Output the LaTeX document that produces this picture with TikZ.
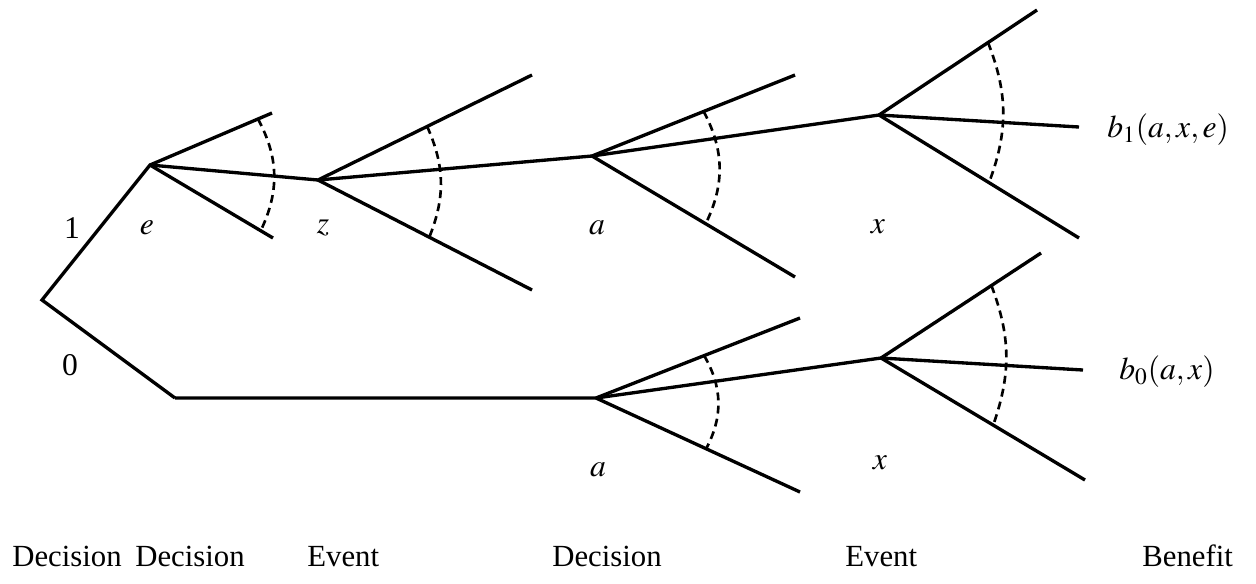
\documentclass[tikz,border=0pt]{standalone}
\usepackage{mathptmx}
\usepackage{fontspec}
\setmainfont{Liberation Serif}
\usetikzlibrary{positioning}
\tikzset{
  branch/.style={line width=1.9pt},
  cut/.style={line width=1.5pt, dash pattern=on 4.5pt off 3pt},
  lbl/.style={font=\fontsize{18}{21}\selectfont, inner sep=0pt},
  stage/.style={font=\fontsize{17.5}{21}\selectfont, inner sep=0pt, anchor=base west},
}

\begin{document}
\begin{tikzpicture}[x=0.02cm, y=-0.02cm]
\useasboundingbox (0,0) rectangle (1256,583);

% decision and event points
\coordinate (root) at (42,300);
\coordinate (e) at (150,165);
\coordinate (z) at (318,180);
\coordinate (a1) at (592,156);
\coordinate (x1) at (879,115);
\coordinate (kink) at (175,398);
\coordinate (a0) at (596,398);
\coordinate (x0) at (881,358);

% free ends of the fans
\coordinate (eTop) at (272,113);
\coordinate (eBot) at (273,238);
\coordinate (zTop) at (532,75);
\coordinate (zBot) at (532,290);
\coordinate (a1Top) at (795,75);
\coordinate (a1Bot) at (795,277);
\coordinate (x1Top) at (1037,10);
\coordinate (x1Mid) at (1079,127);
\coordinate (x1Bot) at (1079,238);
\coordinate (a0Top) at (800,318);
\coordinate (a0Bot) at (800,492);
\coordinate (x0Top) at (1041,253);
\coordinate (x0Mid) at (1083,370);
\coordinate (x0Bot) at (1085,480);

% main paths
\draw[branch] (kink) -- (root) -- (e) -- (z) -- (a1) -- (x1) -- (x1Mid);
\draw[branch] (kink) -- (a0) -- (x0) -- (x0Mid);

% fans
\draw[branch] (e) -- coordinate[pos=.885] (eU) (eTop);
\draw[branch] (e) -- coordinate[pos=.90] (eL) (eBot);
\draw[branch] (z) -- coordinate[pos=.51] (zU) (zTop);
\draw[branch] (z) -- coordinate[pos=.52] (zL) (zBot);
\draw[branch] (a1) -- coordinate[pos=.55] (a1U) (a1Top);
\draw[branch] (a1) -- coordinate[pos=.56] (a1L) (a1Bot);
\draw[branch] (x1) -- coordinate[pos=.69] (x1U) (x1Top);
\draw[branch] (x1) -- coordinate[pos=.55] (x1L) (x1Bot);
\draw[branch] (a0) -- coordinate[pos=.53] (a0U) (a0Top);
\draw[branch] (a0) -- coordinate[pos=.54] (a0L) (a0Bot);
\draw[branch] (x0) -- coordinate[pos=.69] (x0U) (x0Top);
\draw[branch] (x0) -- coordinate[pos=.55] (x0L) (x0Bot);

% dashed arcs
\draw[cut] (eU) to[bend left=27] (eL);
\draw[cut] (zU) to[bend left=23] (zL);
\draw[cut] (a1U) to[bend left=27] (a1L);
\draw[cut] (x1U) to[bend left=21] (x1L);
\draw[cut] (a0U) to[bend left=29] (a0L);
\draw[cut] (x0U) to[bend left=20] (x0L);

% labels
\node[lbl] (one) at (72,228) {1};
\node[lbl] (zero) at (70,365) {0};
\node[lbl] (eLab) at (147,228) {$e$};
\node[lbl] (zLab) at (323,228) {$z$};
\node[lbl] (a1Lab) at (597,228) {$a$};
\node[lbl] (x1Lab) at (878,227) {$x$};
\node[lbl] (a0Lab) at (598,470) {$a$};
\node[lbl] (x0Lab) at (880,463) {$x$};
\node[lbl, anchor=west] (b1) at (1107,130) {$b_1(a,x,e)$};
\node[lbl, anchor=west] (b0) at (1119,372) {$b_0(a,x)$};

% stage names
\node[stage] (dec1) at (12,566) {Decision};
\node[stage] (dec2) at (135,566) {Decision};
\node[stage] (ev1) at (307,566) {Event};
\node[stage] (dec3) at (552,566) {Decision};
\node[stage] (ev2) at (845,566) {Event};
\node[stage] (ben) at (1142,566) {Benefit};

\end{tikzpicture}
\end{document}
